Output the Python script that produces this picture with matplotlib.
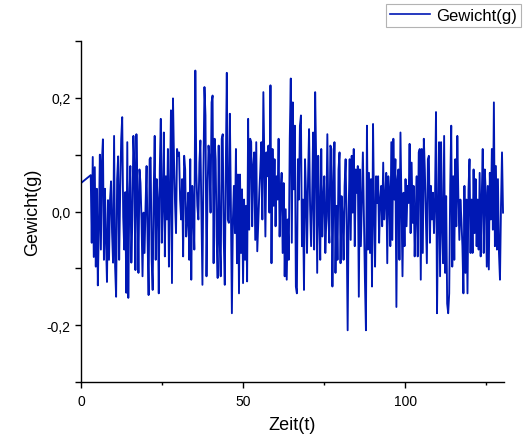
import numpy as np
import matplotlib
matplotlib.use("Agg")
import matplotlib.pyplot as plt
from matplotlib.ticker import FixedLocator

plt.rcParams['font.family'] = ['Liberation Sans', 'DejaVu Sans']

# ---- data ----
t_start = 0.0
t_noise_start = 3.0
t_end = 130.2
head_values = [0.05, 0.064]

seg1 = [-0.055, 0.096, -0.08, 0.078, -0.097, 0.04, -0.13, -0.026, 0.10, -0.067, 0.087, 0.127,
        -0.085, 0.04, -0.05, -0.124, 0.02, -0.085, 0.02, 0.053, -0.037, -0.09, 0.133, -0.097,
        -0.15, 0.057, 0.097, -0.085, 0.034, 0.127, 0.166, -0.01, -0.067, 0.034, -0.143, 0.122,
        -0.152, 0.02, 0.08, -0.09, -0.015, 0.133, 0.08, -0.103, 0.136, 0.027, -0.108]
seg2 = [0.074, 0.05, -0.014, -0.114, -0.002, -0.073, 0.01, 0.08, -0.05, -0.147, 0.092, 0.095,
        -0.085, -0.138, 0.033, 0.133, -0.085, 0.057, 0.021, -0.144, 0.074, 0.163, -0.055, 0.015,
        0.139, -0.079, 0.062, -0.014, 0.11, -0.097, 0.033, 0.178, -0.126, 0.199, 0.092, 0.015,
        -0.038, 0.11, 0.098, 0.104, 0.021, -0.014, 0.057, -0.079, 0.098, 0.074, -0.044, -0.014,
        0.033, -0.085, 0.092, -0.12, 0.045, -0.002, -0.067]
seg3 = [0.248, 0.068, 0.01, -0.014, 0.086, 0.125, -0.008, -0.129, 0.074, 0.219, 0.169, -0.114,
        0.033, 0.116, 0.092, -0.002, 0.192, 0.204, -0.091, 0.128, 0.092, -0.044, -0.117, 0.116,
        -0.05, -0.114, 0.128, 0.136, -0.05, -0.129, 0.074, 0.244, -0.014, -0.02, 0.172, 0.015,
        -0.179, -0.014, 0.045, -0.038, 0.11, -0.091, 0.065, -0.144, 0.065, -0.073, 0.039, -0.126,
        0.021, -0.085, 0.01, -0.123, 0.163, -0.032, 0.128, 0.122, -0.026, 0.08, 0.104]
seg4 = [-0.05, 0.122, -0.07, -0.02, 0.033, 0.074, 0.122, -0.014, 0.21, 0.086, -0.044, 0.104,
        0.062, 0.116, -0.002, 0.222, -0.091, 0.11, 0.01, 0.092, -0.026, 0.062, 0.021, 0.128,
        -0.044, 0.033, 0.068, -0.073, 0.05, -0.114, 0.004, -0.12, -0.014, -0.085, 0.128, 0.234,
        -0.055, 0.192, 0.039, 0.151, -0.132, -0.144, 0.092, 0.021, 0.151, 0.169, -0.061, 0.021,
        -0.138, 0.092, 0.033, -0.073, 0.057, 0.145, 0.01, -0.061, 0.021, 0.139, -0.067, 0.21]
seg5 = [0.092, -0.108, 0.098, -0.002, -0.085, 0.11, -0.044, 0.021, 0.062, -0.073, -0.014, 0.136,
        -0.008, -0.055, 0.116, 0.11, -0.132, 0.045, 0.122, -0.108, 0.01, -0.085, 0.074, 0.104,
        -0.091, 0.027, -0.008, -0.085, 0.045, 0.092, -0.026, -0.209, 0.004, 0.092, -0.05, 0.098,
        -0.002, 0.11, -0.061, 0.074, 0.033, 0.08, -0.15, 0.074, -0.061, 0.021, 0.104, -0.014,
        -0.12, -0.209, 0.151, -0.067, 0.068, -0.073, 0.057, -0.132, 0.154, -0.002, -0.097, 0.062,
        0.015]
seg6 = [0.062, -0.055, 0.021, 0.045, -0.026, 0.086, -0.014, 0.021, 0.068, -0.091, 0.062, 0.033,
        -0.061, 0.122, -0.05, 0.128, 0.021, 0.092, -0.168, 0.057, 0.074, -0.085, 0.139, 0.015,
        -0.114, 0.033, -0.061, 0.057, -0.026, 0.045, 0.015, 0.119, -0.038, 0.086, -0.02, 0.045,
        -0.079, -0.002, 0.062, -0.079, 0.104, 0.11, -0.12, 0.11, -0.073, 0.128, 0.074, -0.008,
        -0.091, 0.092, 0.098, -0.055, 0.045, -0.014, 0.033, -0.038, 0.021, 0.175, -0.179, -0.008,
        0.122]
seg7 = [-0.114, 0.122, -0.026, -0.091, 0.133, -0.108, 0.027, -0.162, -0.179, -0.144, 0.045, 0.151,
        -0.097, 0.062, -0.085, 0.092, -0.026, 0.133, 0.027, -0.05, 0.021, -0.014, -0.061, -0.144,
        0.045, -0.108, 0.021, -0.144, 0.039, 0.092, -0.073, 0.021, -0.073, 0.074, -0.038, 0.057,
        -0.061, 0.021, -0.067, 0.068, -0.079, 0.021, 0.11, -0.073, 0.074, 0.033, -0.097, 0.045,
        -0.102, 0.068, -0.014, 0.11, -0.032, 0.192, -0.061, 0.08, -0.067, 0.057, -0.073, -0.12,
        0.01, 0.104, -0.002]

x_ticks = [0, 50, 100]
x_tick_labels = ["0", "50", "100"]
y_ticks = [-0.2, 0.0, 0.2]
y_tick_labels = ["-0,2", "0,0", "0,2"]
series_name = "Gewicht(g)"

# ---- assemble series ----
noise = np.array(seg1 + seg2 + seg3 + seg4 + seg5 + seg6 + seg7)
t_noise = np.linspace(t_noise_start, t_end, len(noise) + 1)[1:]
t = np.concatenate([[t_start, t_noise_start], t_noise])
y = np.concatenate([head_values, noise])

# ---- figure ----
fig = plt.figure(figsize=(5.24, 4.39), dpi=100)
ax = fig.add_axes([81 / 524, 1 - 383 / 439, (504 - 81) / 524, (383 - 42) / 439])

line_color = '#0018b4'
ax.plot(t, y, color=line_color, lw=1.35, label=series_name)

ax.set_xlim(0, 130.5)
ax.set_ylim(-0.3, 0.3)

ax.spines['top'].set_visible(False)
ax.spines['right'].set_visible(False)
for s in ('left', 'bottom'):
    ax.spines[s].set_linewidth(1.0)

ax.xaxis.set_major_locator(FixedLocator(x_ticks))
ax.set_xticklabels(x_tick_labels)
ax.xaxis.set_minor_locator(FixedLocator([25, 75, 125]))
ax.yaxis.set_major_locator(FixedLocator(y_ticks))
ax.set_yticklabels(y_tick_labels)
ax.yaxis.set_minor_locator(FixedLocator([-0.3, -0.1, 0.1, 0.3]))

ax.tick_params(axis='x', which='major', direction='out', length=4.5, width=1.0, labelsize=10, pad=4)
ax.tick_params(axis='x', which='minor', direction='out', length=2.5, width=1.0)
ax.tick_params(axis='y', which='both', direction='out', length=4.5, width=1.0, labelsize=10, pad=3)

ax.set_xlabel("Zeit(t)", fontsize=13, labelpad=6)
ax.set_ylabel("Gewicht(g)", fontsize=13, labelpad=4)

leg = fig.legend(loc='upper right', bbox_to_anchor=(521 / 524, 1 - 5 / 439),
                 fontsize=12, frameon=True, fancybox=False, borderpad=0.25,
                 handlelength=2.4, handletextpad=0.35, borderaxespad=0.0)
leg.get_frame().set_edgecolor('#a0a0a0')
leg.get_frame().set_linewidth(0.8)
leg.get_lines()[0].set_linewidth(1.2)

fig.savefig("out.png", dpi=100)
